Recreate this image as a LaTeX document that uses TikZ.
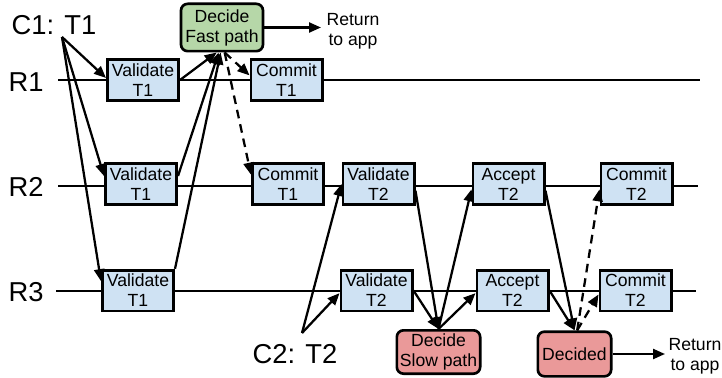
\documentclass[tikz,border=0pt]{standalone}
\usepackage{fontspec}
\setmainfont{Liberation Sans}
\usetikzlibrary{arrows.meta,calc}
\definecolor{boxblue}{HTML}{CFE2F3}
\definecolor{fastgreen}{HTML}{B6D7A8}
\definecolor{slowred}{HTML}{EA9999}

\begin{document}
\begin{tikzpicture}[x=0.75pt,y=-0.75pt,
  every node/.style={font=\fontsize{13.2}{15}\selectfont, inner sep=0pt},
  opbox/.style={draw=black, line width=2pt, fill=boxblue,
    minimum width=53.5pt, minimum height=30.5pt, align=center},
  decbox/.style={draw=black, line width=2pt, rounded corners=5pt, align=center},
  lbl/.style={font=\fontsize{20.5}{24}\selectfont, anchor=base},
  timeline/.style={line width=1.7pt},
  msg/.style={line width=1.7pt, -{Triangle[length=9pt,width=7.5pt]}},
  reply/.style={msg, dash pattern=on 6.5pt off 4.5pt},
]
\useasboundingbox (0,0) rectangle (722,378);

% replica timelines
\coordinate (r1s) at (58,80);  \coordinate (r1e) at (700,80);
\coordinate (r2s) at (58,186); \coordinate (r2e) at (698,186);
\coordinate (r3s) at (56,291); \coordinate (r3e) at (696,291);
\draw[timeline] (r1s) -- (r1e);
\draw[timeline] (r2s) -- (r2e);
\draw[timeline] (r3s) -- (r3e);

\node[lbl] (lr1) at (26,92) {R1};
\node[lbl] (lr2) at (26,196) {R2};
\node[lbl] (lr3) at (26,301) {R3};

% clients
\node[lbl] (lc1) at (54,35) {C1: T1};
\coordinate (c1o) at (62,37);
\node[lbl] (lc2) at (295,363) {C2: T2};
\coordinate (c2o) at (302,333);

% operations on the replicas
\node[opbox] (v1)  at (143,80)    {Validate\\T1};
\node[opbox] (v2)  at (141,184)   {Validate\\T1};
\node[opbox] (v3)  at (138,290.5) {Validate\\T1};
\node[opbox] (c1a) at (286.5,80)  {Commit\\T1};
\node[opbox] (c1b) at (288,184)   {Commit\\T1};
\node[opbox] (v2a) at (378.5,184) {Validate\\T2};
\node[opbox] (v2b) at (376.5,290.5) {Validate\\T2};
\node[opbox] (a2a) at (508.5,184) {Accept\\T2};
\node[opbox] (a2b) at (512.5,290.5) {Accept\\T2};
\node[opbox] (c2a) at (636.5,184) {Commit\\T2};
\node[opbox] (c2b) at (635.5,290.5) {Commit\\T2};

% decisions
\node[decbox, fill=fastgreen, minimum width=61.5pt, minimum height=35.5pt] (fast) at (222,27.5) {Decide\\Fast path};
\node[decbox, fill=slowred, minimum width=62.5pt, minimum height=32.5pt] (slow) at (438.5,352) {Decide\\Slow path};
\node[decbox, fill=slowred, minimum width=55pt, minimum height=33.5pt] (decided) at (574.5,354) {Decided};

\node[align=center] (ret1) at (353,31) {Return\\to app};
\node[align=center] (ret2) at (695,356) {Return\\to app};
\coordinate (ret1tip) at (321,27.5);
\coordinate (ret2tip) at (665,354);

% transaction T1: fast path
\draw[msg] (c1o) -- ([yshift=1.5pt]v1.west);
\draw[msg] (c1o) -- ([yshift=6pt]v2.west);
\draw[msg] (c1o) -- ([yshift=7pt]v3.west);
\draw[msg] (v1.east) -- ([xshift=-4pt]fast.south);
\draw[msg] ([yshift=6pt]v2.east) -- ([xshift=-2.5pt]fast.south);
\draw[msg] (v3.north east) -- ([xshift=-1pt]fast.south);
\draw[reply] ([xshift=2pt]fast.south) -- ([yshift=3.5pt]c1a.west);
\draw[reply] ([xshift=2pt]fast.south) -- ([yshift=7pt]c1b.west);
\draw[msg] (fast.east) -- (ret1tip);

% transaction T2: slow path
\draw[msg] (c2o) -- (v2a.west);
\draw[msg] (c2o) -- ([yshift=-2pt]v2b.west);
\draw[msg] ([yshift=-5pt]v2a.east) -- (slow.north);
\draw[msg] (v2b.east) -- (slow.north);
\draw[msg] (slow.north) -- ([yshift=-4pt]a2a.west);
\draw[msg] (slow.north) -- ([yshift=-2pt]a2b.west);
\draw[msg] ([yshift=-5pt]a2a.east) -- (decided.north);
\draw[msg] (a2b.east) -- (decided.north);
\draw[reply] ([xshift=2pt]decided.north) -- ([yshift=-4pt]c2a.west);
\draw[reply] ([xshift=2pt]decided.north) -- ([yshift=-3pt]c2b.west);
\draw[msg] (decided.east) -- (ret2tip);
\end{tikzpicture}
\end{document}
